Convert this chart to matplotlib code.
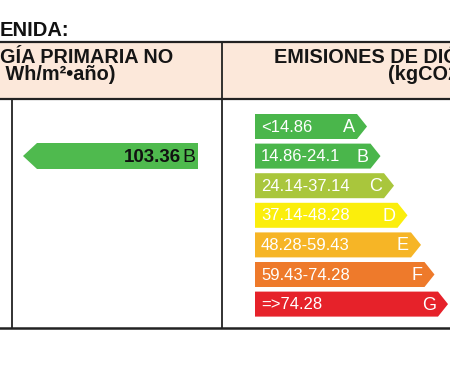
import matplotlib
matplotlib.use("Agg")
import matplotlib.pyplot as plt
from matplotlib.patches import Polygon, Rectangle

plt.rcParams['font.family'] = ['Liberation Sans', 'DejaVu Sans']

# ---- data ----
title_text = "ENIDA:"
left_header = ["GÍA PRIMARIA NO", "Wh/m²•año)"]
right_header = ["EMISIONES DE DIÓ", "(kgCO2"]
classes = ["A", "B", "C", "D", "E", "F", "G"]
ranges = ["<14.86", "14.86-24.1", "24.14-37.14", "37.14-48.28",
          "48.28-59.43", "59.43-74.28", "=>74.28"]
class_colors = ["#4ab64b", "#4ab64b", "#a9c63c", "#fbee0c",
                "#f6b526", "#ee7a2b", "#e6222a"]
energy_value = "103.36"
energy_class = "B"
energy_color = "#4fba4e"

W, H = 450, 367
fig = plt.figure(figsize=(W / 100, H / 100), dpi=100)
ax = fig.add_axes([0, 0, 1, 1])
ax.set_xlim(0, W)
ax.set_ylim(H, 0)
ax.axis("off")
fig.patch.set_facecolor("white")

# title
ax.text(0, 36, title_text, fontsize=14.5, fontweight="bold", color="#111111",
        ha="left", va="baseline")

# header band
ax.add_patch(Rectangle((0, 42), W, 56, facecolor="#fce8da", edgecolor="none"))
ax.plot([0, W], [42, 42], color="#222222", lw=1.6)
ax.plot([0, W], [98.5, 98.5], color="#222222", lw=1.6)
ax.plot([222, 222], [42, 328], color="#222222", lw=1.3)
ax.plot([12, 12], [98.5, 328], color="#222222", lw=1.3)
ax.plot([0, W], [327.5, 327.5], color="#222222", lw=1.8)

hdr = dict(fontsize=14.3, fontweight="bold", color="#151515", va="baseline",
           linespacing=0.88)
ax.text(0, 80, left_header[0] + "\n " + left_header[1], ha="left",
        multialignment="left", **hdr)
ax.text(459, 80, right_header[0] + "\n" + right_header[1], ha="right",
        multialignment="right", **hdr)

# energy arrow (left panel)
top, bot, tip, base, right = 143, 169, 23, 37, 198
ax.add_patch(Polygon([(tip, (top + bot) / 2), (base, top), (right, top),
                      (right, bot), (base, bot)], closed=True,
                     facecolor=energy_color, edgecolor="none"))
ax.text(181, (top + bot) / 2 + 1, energy_value, fontsize=13.5, fontweight="bold",
        color="#111111", ha="right", va="center")
ax.text(182.5, (top + bot) / 2 + 1, energy_class, fontsize=14, color="#111111",
        ha="left", va="center")

# emission scale (right panel)
x0 = 255
bar_h = 25
for i, (cls, rng, col) in enumerate(zip(classes, ranges, class_colors)):
    y = 114 + i * 29.6
    end = 357 + i * 13.5
    tipx = end + 10
    ax.add_patch(Polygon([(x0, y), (end, y), (tipx, y + bar_h / 2),
                          (end, y + bar_h), (x0, y + bar_h)], closed=True,
                         facecolor=col, edgecolor="none"))
    ax.text(261, y + bar_h / 2 + 0.5, rng, fontsize=12, color="white",
            ha="left", va="center")
    ax.text(end - 2, y + bar_h / 2 + 1, cls, fontsize=13, color="white",
            ha="right", va="center")

fig.savefig("out.png", dpi=100, facecolor="white")
